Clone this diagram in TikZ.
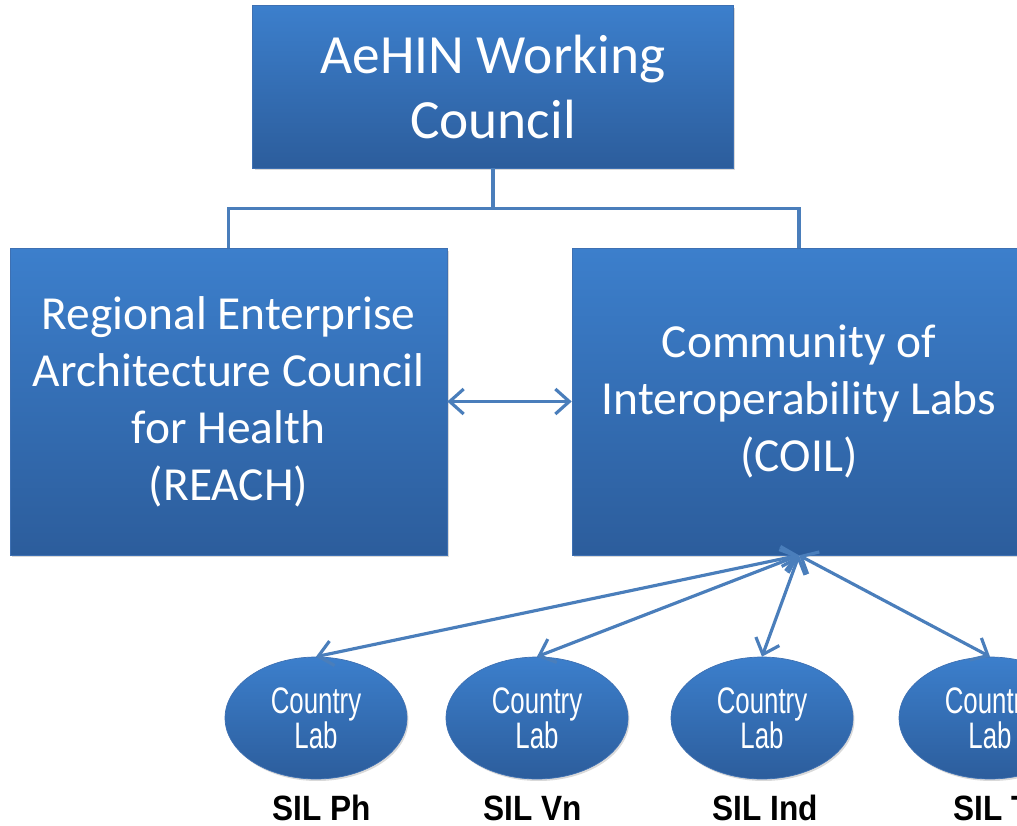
\documentclass[tikz,border=0pt]{standalone}
\usepackage{fontspec}
\setmainfont{Carlito}
\newfontfamily\labfont[FakeStretch=0.7]{Liberation Sans}
\newfontfamily\silfont[FakeStretch=0.9]{Liberation Sans}
\usetikzlibrary{shapes,arrows.meta,shadows}
\definecolor{boxtop}{RGB}{60,127,204}
\definecolor{boxbottom}{RGB}{44,93,156}
\definecolor{boxedge}{RGB}{62,112,178}
\definecolor{linkblue}{RGB}{74,126,187}

\begin{document}
\begin{tikzpicture}[x=0.02cm,y=-0.02cm]
			\tikzstyle{council}=[draw=boxedge,rectangle,top color=boxtop,bottom color=boxbottom,text=white,align=center,inner sep=0pt,drop shadow={shadow xshift=0.04cm,shadow yshift=-0.05cm,opacity=0.3}]
			\tikzstyle{countrylab}=[draw=boxedge,ellipse,top color=boxtop,bottom color=boxbottom,text=white,align=center,inner sep=0pt,minimum width=3.64cm,minimum height=2.44cm,font=\labfont\fontsize{21}{20}\selectfont,drop shadow={shadow xshift=0.03cm,shadow yshift=-0.04cm,opacity=0.3}]
			\tikzstyle{silname}=[anchor=base,font=\silfont\bfseries\fontsize{20}{24}\selectfont]
			\tikzstyle{link}=[<->,>={Straight Barb[length=2.8mm,width=5mm]},line width=1.8pt,draw=linkblue]
			\tikzstyle{tree}=[line width=1.8pt,draw=linkblue]

			\useasboundingbox (0,0) rectangle (1017,825);
			\clip (0,0) rectangle (1017,825);

			\node[council,minimum width=9.62cm,minimum height=3.26cm,font=\fontsize{31.5}{37}\selectfont] (aehin) at (493,86.5) {AeHIN Working\\Council};
			\node[council,minimum width=8.74cm,minimum height=6.14cm,font=\fontsize{27}{32.5}\selectfont] (reach) at (228.5,401.5) {Regional Enterprise\\Architecture Council\\for Health\\(REACH)};
			\node[council,minimum width=9.08cm,minimum height=6.14cm,font=\fontsize{27}{32.5}\selectfont] (coil) at (799,401.5) {Community of\\Interoperability Labs\\(COIL)};

			\node[countrylab] (labph) at (316,718) {Country\\Lab};
			\node[countrylab] (labvn) at (537,718) {Country\\Lab};
			\node[countrylab] (labind) at (762,718) {Country\\Lab};
			\node[countrylab] (labth) at (990,718) {Country\\Lab};

			\node[silname] (silph) at (322,820) {SIL Ph};
			\node[silname] (silvn) at (533,820) {SIL Vn};
			\node[silname] (silind) at (765,820) {SIL Ind};
			\node[silname,anchor=base west] (silth) at (947,820) {SIL Th};

			\draw[tree] (aehin.south) -- ++(0,40) -| (reach.north);
			\draw[tree] (aehin.south) -- ++(0,40) -| (coil.north);

			\draw[link] (reach) -- (coil);

			\draw[link] (coil.south) -- (labph.north);
			\draw[link] (coil.south) -- (labvn.north);
			\draw[link] (coil.south) -- (labind.north);
			\draw[link] (coil.south) -- (labth.north);

		\end{tikzpicture}
\end{document}
